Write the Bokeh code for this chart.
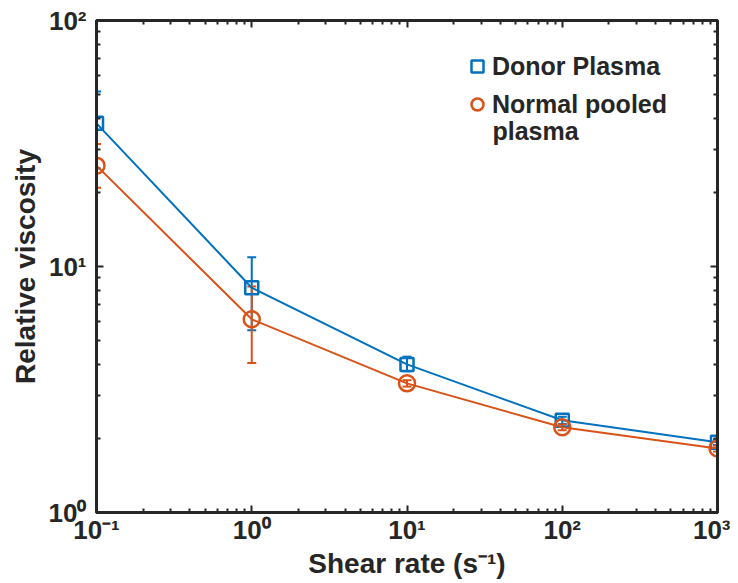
from bokeh.plotting import figure
from bokeh.models import (LogAxis, FixedTicker, Whisker, ColumnDataSource, Legend,
                          LegendItem, TeeHead, Label, CustomJSTickFormatter)
from bokeh.embed import file_html
from bokeh.resources import INLINE

# ---- data ----
shear = [0.1, 1, 10, 100, 1000]
donor = [38.2, 8.2, 4.0, 2.37, 1.93]
donor_lo = [25.0, 5.5, 3.75, 2.29, 1.88]
donor_hi = [51.4, 10.9, 4.3, 2.45, 1.98]
pooled = [25.7, 6.1, 3.35, 2.22, 1.82]
pooled_lo = [20.9, 4.05, 3.25, 2.16, 1.77]
pooled_hi = [31.5, 8.3, 3.45, 2.28, 1.87]
x_ticks = [0.1, 1, 10, 100, 1000]
x_labels = ["10⁻¹", "10⁰", "10¹", "10²", "10³"]
y_ticks = [1, 10, 100]
y_labels = ["10⁰", "10¹", "10²"]

BLUE = "#0072BD"
ORANGE = "#D95319"
DARK = "#262626"
FONT = "Liberation Sans"


def minors(ticks):
    out = []
    for t in ticks[:-1]:
        out += [round(m * t, 6) for m in range(2, 10)]
    return out


p = figure(width=730, height=583, x_axis_type="log", y_axis_type="log",
           x_range=(0.1, 1000), y_range=(1, 100),
           output_backend="svg", toolbar_location=None,
           min_border_left=96, min_border_right=13, min_border_top=20,
           min_border_bottom=71)
p.xgrid.visible = False
p.ygrid.visible = False
p.outline_line_color = DARK
p.outline_line_width = 3

p.xaxis.axis_label = "Shear rate (s⁻¹)"
p.yaxis.axis_label = "Relative viscosity"


def style_axis(ax, ticks, labels, show):
    ax.ticker = FixedTicker(ticks=ticks, minor_ticks=minors(ticks))
    if show:
        ax.major_label_overrides = {t: l for t, l in zip(ticks, labels)}
    else:
        ax.formatter = CustomJSTickFormatter(code="return ''")
    ax.axis_line_color = DARK
    ax.axis_line_width = 3
    ax.major_tick_line_color = DARK
    ax.minor_tick_line_color = DARK
    ax.major_tick_line_width = 2
    ax.minor_tick_line_width = 2
    ax.major_tick_in = 7
    ax.major_tick_out = 0
    ax.minor_tick_in = 4
    ax.minor_tick_out = 0
    ax.major_label_text_font = FONT
    ax.major_label_text_font_style = "bold"
    ax.major_label_text_color = DARK
    ax.major_label_text_font_size = "26px"
    ax.axis_label_text_font = FONT
    ax.axis_label_text_font_style = "bold"
    ax.axis_label_text_font_size = "28px"
    ax.axis_label_text_color = DARK


style_axis(p.xaxis[0], x_ticks, x_labels, True)
style_axis(p.yaxis[0], y_ticks, y_labels, True)
p.xaxis[0].major_label_standoff = 2
p.xaxis[0].axis_label_standoff = 0
p.yaxis[0].major_label_standoff = 10
p.yaxis[0].axis_label_standoff = 5

top = LogAxis()
right = LogAxis()
style_axis(top, x_ticks, x_labels, False)
style_axis(right, y_ticks, y_labels, False)
top.major_label_standoff = 0
right.major_label_standoff = 0
p.add_layout(top, "above")
p.add_layout(right, "right")

src_d = ColumnDataSource(dict(x=shear, y=donor, lo=donor_lo, hi=donor_hi))
src_p = ColumnDataSource(dict(x=shear, y=pooled, lo=pooled_lo, hi=pooled_hi))

# donor
p.line("x", "y", source=src_d, line_color=BLUE, line_width=2)
p.add_layout(Whisker(source=src_d, base="x", upper="hi", lower="lo",
                     line_color=BLUE, line_width=2,
                     upper_head=TeeHead(size=9, line_color=BLUE, line_width=2),
                     lower_head=TeeHead(size=9, line_color=BLUE, line_width=2)))
sq = p.scatter("x", "y", source=src_d, marker="square", size=13,
               line_color=BLUE, line_width=2.5, fill_color=None)

# pooled
p.line("x", "y", source=src_p, line_color=ORANGE, line_width=2)
p.add_layout(Whisker(source=src_p, base="x", upper="hi", lower="lo",
                     line_color=ORANGE, line_width=2,
                     upper_head=TeeHead(size=9, line_color=ORANGE, line_width=2),
                     lower_head=TeeHead(size=9, line_color=ORANGE, line_width=2)))
ci = p.scatter("x", "y", source=src_p, marker="circle", size=16,
               line_color=ORANGE, line_width=2.5, fill_color=None)

legend = Legend(items=[LegendItem(label="Donor Plasma", renderers=[sq]),
                       LegendItem(label="Normal pooled", renderers=[ci])],
                location=(366, 393), border_line_color=None,
                background_fill_alpha=0, padding=0, spacing=8, margin=0,
                glyph_width=30, glyph_height=30, label_standoff=0,
                label_height=30,
                label_text_font=FONT, label_text_font_style="bold",
                label_text_font_size="25px", label_text_color=DARK)
p.add_layout(legend)
p.add_layout(Label(x=396, y=382, x_units="screen", y_units="screen",
                   text="plasma", text_font=FONT, text_font_style="bold",
                   text_font_size="25px", text_color=DARK,
                   text_baseline="middle"))

open("out.html", "w").write(file_html(p, INLINE))
